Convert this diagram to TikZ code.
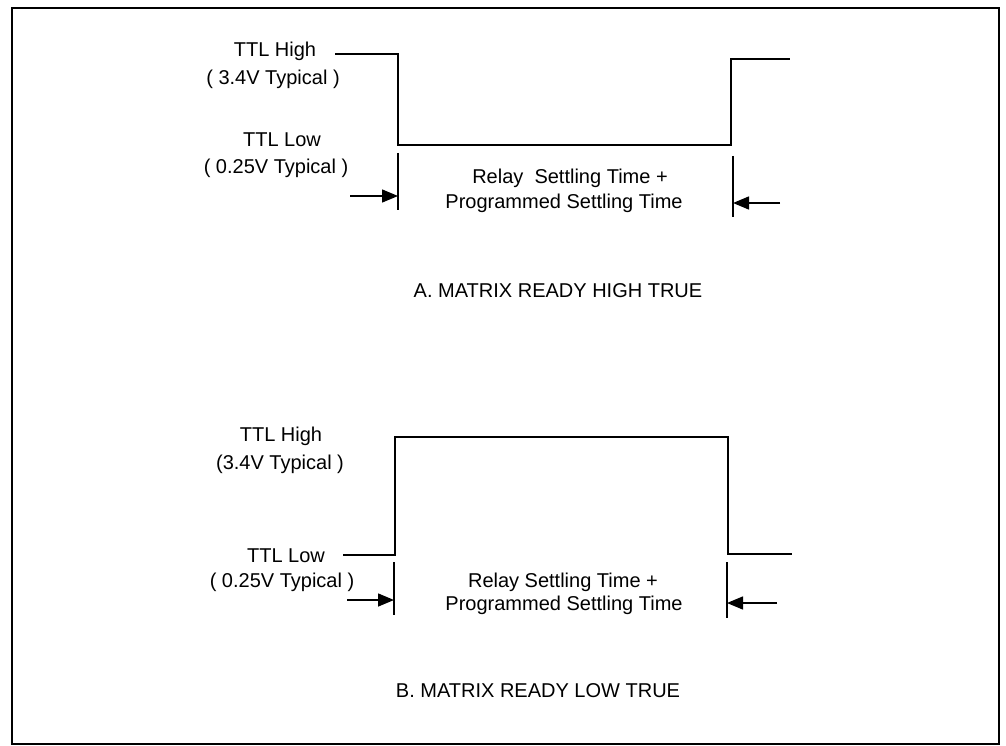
\documentclass[tikz,border=0pt]{standalone}
\usepackage{fontspec}
\setmainfont{Liberation Sans}
\usetikzlibrary{arrows.meta}
\tikzset{
  lbl/.style={font=\fontsize{20}{24}\selectfont,inner sep=0pt,anchor=base},
  wave/.style={draw=black,line width=1.7pt,line join=miter},
  tick/.style={draw=black,line width=1.7pt},
  marr/.style={-{Triangle[length=16pt,width=13pt]},draw=black,line width=1.5pt},
  frm/.style={draw=black,line width=1.4pt},
}

\begin{document}
\begin{tikzpicture}[x=1pt,y=-1pt]
\useasboundingbox (0,0) rectangle (1006,746);
\draw[frm] (12,8) rectangle (999,744);
% A. matrix ready high true
\node[lbl] (hiA) at (275,57) {TTL High};
\node[lbl] (hivA) at (273,85) {( 3.4V Typical )};
\node[lbl] (loA) at (282,147) {TTL Low};
\node[lbl] (lovA) at (276,174) {( 0.25V Typical )};
\coordinate (wA0) at (335,54);
\coordinate (wA1) at (398,54);
\coordinate (wA2) at (398,145);
\coordinate (wA3) at (731,145);
\coordinate (wA4) at (731,59);
\coordinate (wA5) at (790,59);
\draw[wave] (wA0) -- (wA1) -- (wA2) -- (wA3) -- (wA4) -- (wA5);
\coordinate (tA1a) at (398,153);
\coordinate (tA1b) at (398,210);
\coordinate (tA2a) at (733,156);
\coordinate (tA2b) at (733,217);
\draw[tick] (tA1a) -- (tA1b);
\draw[tick] (tA2a) -- (tA2b);
\coordinate (aA1) at (350,196);
\coordinate (aA2) at (780,203);
\draw[marr] (aA1) -- (398,196);
\draw[marr] (aA2) -- (733,203);
\node[lbl] (stA1) at (570,184) {Relay\ \ Settling Time +};
\node[lbl] (stA2) at (564,208) {Programmed Settling Time};
\node[lbl] (capA) at (558,297) {A. MATRIX READY HIGH TRUE};
% B. matrix ready low true
\node[lbl] (hiB) at (281,441) {TTL High};
\node[lbl] (hivB) at (280,469) {(3.4V Typical )};
\node[lbl] (loB) at (286,562) {TTL Low};
\node[lbl] (lovB) at (282,587) {( 0.25V Typical )};
\coordinate (wB0) at (343,555);
\coordinate (wB1) at (395,555);
\coordinate (wB2) at (395,437);
\coordinate (wB3) at (728,437);
\coordinate (wB4) at (728,554);
\coordinate (wB5) at (792,554);
\draw[wave] (wB0) -- (wB1) -- (wB2) -- (wB3) -- (wB4) -- (wB5);
\coordinate (tB1a) at (394,562);
\coordinate (tB1b) at (394,615);
\coordinate (tB2a) at (727,562);
\coordinate (tB2b) at (727,618);
\draw[tick] (tB1a) -- (tB1b);
\draw[tick] (tB2a) -- (tB2b);
\coordinate (aB1) at (347,600);
\coordinate (aB2) at (777,603);
\draw[marr] (aB1) -- (394,600);
\draw[marr] (aB2) -- (727,603);
\node[lbl] (stB1) at (563,587) {Relay Settling Time +};
\node[lbl] (stB2) at (564,610) {Programmed Settling Time};
\node[lbl] (capB) at (538,697) {B. MATRIX READY LOW TRUE};
\end{tikzpicture}
\end{document}
